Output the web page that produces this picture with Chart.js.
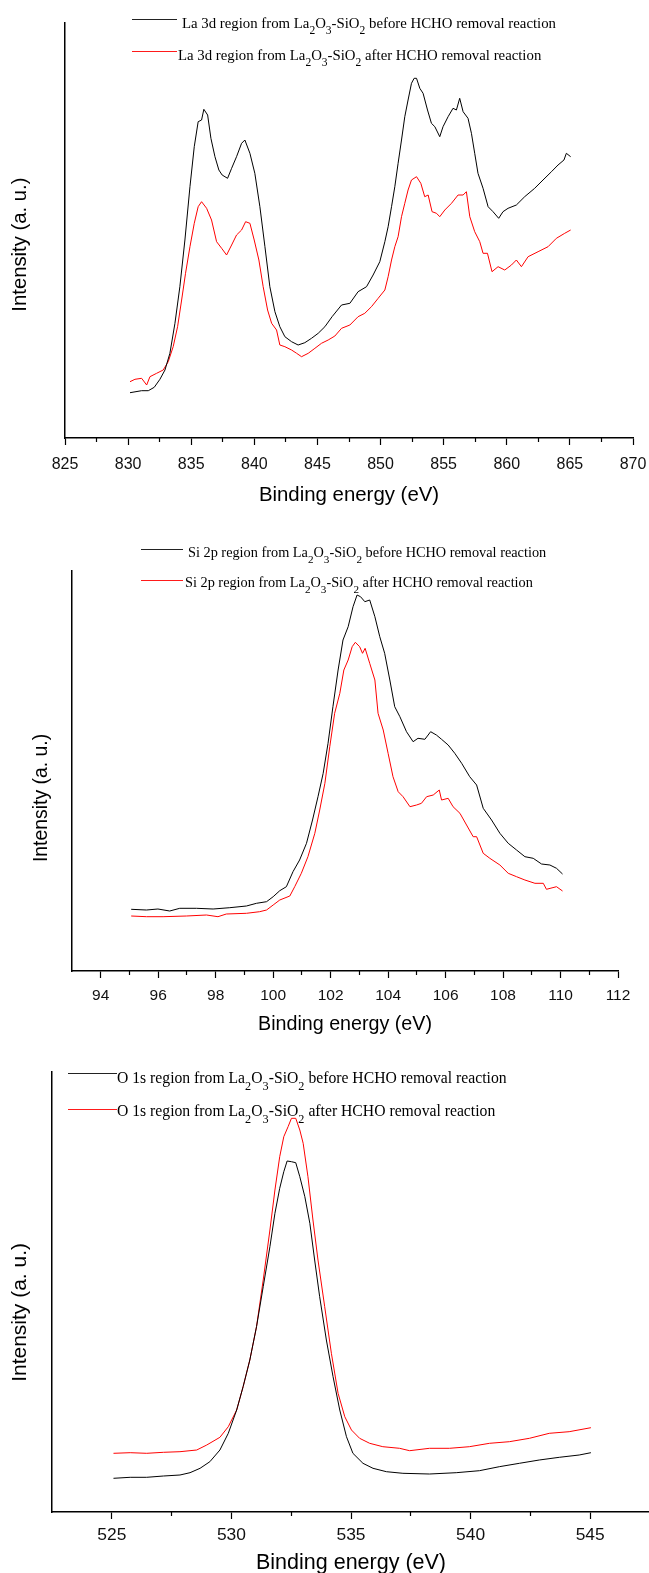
<!DOCTYPE html>
<html><head><meta charset="utf-8">
<script src="https://cdn.jsdelivr.net/npm/chart.js@4.4.0/dist/chart.umd.min.js"></script>
<style>
html,body{margin:0;padding:0;background:#fff;width:649px;height:1573px;overflow:hidden;position:relative}
canvas{position:absolute;left:0}
.leg{position:absolute;font-family:"Liberation Serif","Times New Roman",serif;color:#000;white-space:nowrap}
.leg sub{font-size:0.78em;line-height:0;vertical-align:-0.55em}
.ln{position:absolute;height:0;border-top:1.3px solid #222}
.ln.r{border-top-color:#ff1a1a}
</style></head><body>
<canvas id="c1" width="660" height="520" style="top:0"></canvas>
<canvas id="c2" width="649" height="520" style="top:520px"></canvas>
<canvas id="c3" width="660" height="545" style="top:1040px"></canvas>

<div class="ln" style="left:132px;width:45px;top:19px"></div>
<div class="leg" style="left:182px;top:15.9px;font-size:14.8px;line-height:14.8px">La 3d region from La<sub>2</sub>O<sub>3</sub>-SiO<sub>2</sub> before HCHO removal reaction</div>
<div class="ln r" style="left:132px;width:45px;top:51px"></div>
<div class="leg" style="left:178px;top:47.6px;font-size:14.8px;line-height:14.8px">La 3d region from La<sub>2</sub>O<sub>3</sub>-SiO<sub>2</sub> after HCHO removal reaction</div>

<div class="ln" style="left:141px;width:42px;top:549px"></div>
<div class="leg" style="left:188px;top:544.7px;font-size:14.3px;line-height:14.3px">Si 2p region from La<sub>2</sub>O<sub>3</sub>-SiO<sub>2</sub> before HCHO removal reaction</div>
<div class="ln r" style="left:141px;width:42px;top:580px"></div>
<div class="leg" style="left:185px;top:575.3px;font-size:14.3px;line-height:14.3px">Si 2p region from La<sub>2</sub>O<sub>3</sub>-SiO<sub>2</sub> after HCHO removal reaction</div>

<div class="ln" style="left:68px;width:49px;top:1073px"></div>
<div class="leg" style="left:117px;top:1069.5px;font-size:15.7px;line-height:15.7px">O 1s region from La<sub>2</sub>O<sub>3</sub>-SiO<sub>2</sub> before HCHO removal reaction</div>
<div class="ln r" style="left:68px;width:49px;top:1108.5px"></div>
<div class="leg" style="left:117px;top:1102.8px;font-size:15.7px;line-height:15.7px">O 1s region from La<sub>2</sub>O<sub>3</sub>-SiO<sub>2</sub> after HCHO removal reaction</div>

<script>
// ---------- La 3d ----------
const la3dBeforeE = [830.15,831.07,831.6,832.07,832.52,832.92,833.31,833.71,834.1,834.5,834.9,835.24,835.55,835.82,836.0,836.3,836.56,836.88,837.19,837.45,837.88,838.2,838.59,838.99,839.25,839.65,840.04,840.44,840.84,841.23,841.63,842.02,842.42,842.95,843.47,844.0,844.53,845.06,845.59,846.16,846.91,847.57,848.22,848.89,849.41,849.94,850.34,850.6,850.87,851.13,851.39,851.66,851.92,852.18,852.45,852.66,852.85,853.11,853.37,853.72,854.03,854.3,854.69,854.95,855.35,855.74,856.01,856.27,856.54,856.93,857.2,857.46,857.72,858.12,858.52,858.91,859.36,859.7,860.1,860.76,861.42,862.21,862.87,863.54,864.06,864.53,864.72,865.06];
const la3dBeforeI = [45.3,47.3,47.3,50.7,58.7,68,84.7,114.7,151.3,198,251.3,291.3,316.3,318,328.7,323,299.7,281.3,268,263,259.7,269.7,281.3,294.7,298,284.7,264.7,231.3,191.3,151.3,126.3,111.3,101.3,96.3,93,95.3,99.7,104.7,111.3,121.3,133,134.7,146.3,151.3,163,176.3,196.3,211.3,231.3,251.3,274.7,298,321.3,338,354.7,359.7,359.7,349.7,344.7,328,314.7,311.3,301.3,311.3,321.3,329.7,328,339.7,326.3,319.7,304.7,284.7,264.7,249.7,231.3,226.3,219.7,226.3,229.7,233,241.3,249.7,258,266.3,273,278,284.7,281.3];
const la3dAfterE = [830.15,830.54,831.07,831.47,831.73,832.26,832.78,833.18,833.57,833.92,834.24,834.55,834.9,835.24,835.55,835.82,836.22,836.61,837.01,837.41,837.8,838.2,838.59,838.99,839.31,839.65,839.99,840.36,840.7,841.05,841.37,841.76,842.02,842.42,842.95,843.35,843.74,844.27,844.8,845.32,845.85,846.38,846.91,847.57,848.22,848.75,849.28,849.81,850.34,850.6,850.87,851.13,851.39,851.66,851.92,852.18,852.45,852.85,853.19,853.5,853.77,854.08,854.43,854.69,855.09,855.62,856.14,856.54,856.8,857.07,857.46,857.86,858.12,858.47,858.83,859.31,859.84,860.37,860.76,861.16,861.69,862.48,863.27,863.93,864.59,865.06];
const la3dAfterI = [56.3,58.7,59.7,53,61.3,64.7,68,76.3,91.3,111.3,138,164.7,191.3,214.7,231.3,236.3,229.7,218,196.3,189.7,183,193,203,208,216.3,214.7,198,178,151.3,128,114.7,108,93,91.3,88,84.7,81.3,84.7,89.7,94.7,98,102,109.7,113,121.3,124.7,131.3,139.7,148,161.3,178,191.3,201.3,221.3,234.7,248,258,261.3,254.7,241.3,243,226.3,224.7,221.3,228,234.7,243,243,246.3,221.3,206.3,196.3,184.7,184.7,166.3,171.3,168,173,178,171.3,181.3,186.3,191.3,199.7,204.7,208];
const la3dMajorTicks = [825,830,835,840,845,850,855,860,865,870];
const la3dMinorTicks = [827.5,832.5,837.5,842.5,847.5,852.5,857.5,862.5,867.5];

// ---------- Si 2p ----------
const si2pBeforeE = [95.06,95.59,95.99,96.4,96.75,97.33,97.91,98.49,99.07,99.42,99.77,100.0,100.23,100.46,100.69,100.92,101.16,101.37,101.56,101.74,101.91,102.08,102.26,102.43,102.61,102.78,102.92,103.04,103.19,103.36,103.54,103.71,103.88,104.06,104.23,104.41,104.64,104.87,105.04,105.28,105.48,105.68,105.86,106.09,106.32,106.56,106.84,107.08,107.31,107.6,107.89,108.18,108.47,108.76,109.05,109.34,109.63,109.86,110.07];
const si2pBeforeI = [61.7,61,62,60,62.7,62.7,62,63.3,65,67.7,69.3,74.3,80.3,84.3,99.3,111,127.7,151,174.3,197.7,227.7,264.3,301,331,344.3,364.3,376,374.3,369.3,371,354.3,334.3,317.7,291,264.3,254.3,239.3,229.3,232.7,231.7,239.3,236,231.7,226,217.7,207.7,194.3,186,162.7,151,137.7,127.7,121,114.3,112.7,107,106,102.7,97];
const si2pAfterE = [95.06,95.59,96.17,96.98,97.68,98.08,98.37,99.07,99.53,99.77,100.0,100.23,100.58,100.75,100.98,101.21,101.45,101.62,101.8,101.97,102.14,102.32,102.46,102.61,102.75,102.86,103.01,103.11,103.2,103.36,103.54,103.65,103.83,104.0,104.17,104.35,104.52,104.76,104.99,105.16,105.34,105.57,105.78,105.86,106.09,106.26,106.5,106.73,106.96,107.08,107.31,107.54,107.89,108.18,108.47,108.76,109.11,109.4,109.51,109.86,110.07];
const si2pAfterI = [55,54.3,54.3,55,56,54.3,57,57.7,59.3,61,66,71,75,84.3,97.7,114.3,137.7,161,187.7,224.3,257.7,277.7,301,311,324.3,328.7,324.3,317.7,322.7,307.7,291,257.7,241,217.7,194.3,179.3,174.3,164.3,166,167.7,174.3,176,181,171,172.7,164.3,157.7,146,134.3,134.3,117.7,112.7,106,97.7,94.3,91,87.7,87.7,81.7,84.3,80];
const si2pMajorTicks = [94,96,98,100,102,104,106,108,110,112];
const si2pMinorTicks = [95,97,99,101,103,105,107,109,111];

// ---------- O 1s ----------
const o1sBeforeE = [525.07,525.77,526.46,527.16,527.85,528.27,528.69,529.1,529.52,529.87,530.22,530.49,530.77,531.05,531.33,531.61,531.82,532.02,532.19,532.33,532.51,532.69,532.86,533.07,533.28,533.48,533.69,533.97,534.25,534.53,534.81,535.08,535.5,535.92,536.48,537.17,538.28,539.4,540.37,541.2,542.04,542.87,543.71,544.54,545.03];
const o1sBeforeI = [33.7,34.7,34.7,36,37,39.3,43.7,50.3,62,78.7,102,125.3,152,185.3,225.3,265.3,298.7,323.7,340.3,351,350.3,349.3,335.3,315.3,288.7,252,215.3,172,135.3,102,75.3,58.7,48.7,43.7,40.3,38.7,38,39.3,41.3,45.3,48.7,52,54.7,57,59.3];
const o1sAfterE = [525.07,525.77,526.46,527.16,527.85,528.55,528.97,529.52,529.87,530.22,530.49,530.77,531.05,531.33,531.61,531.82,532.02,532.19,532.37,532.51,532.69,532.86,533.0,533.2,533.41,533.62,533.9,534.18,534.46,534.74,535.02,535.36,535.78,536.33,537.03,537.45,538.28,539.12,539.95,540.79,541.62,542.46,543.29,544.12,545.03];
const o1sAfterI = [58.7,59.3,58.7,59.7,60.3,62,67,74.7,85.3,102,125.3,152,185.3,232,282,322,355.3,375.3,385.3,393.7,393.7,382,368.7,335.3,292,252,205.3,158.7,118.7,95.3,82,73.7,68.7,65.3,63.7,61.3,63.7,63.7,65.3,68.7,70.3,73.7,78.7,80.3,84.3];
const o1sMajorTicks = [525,530,535,540,545];
const o1sMinorTicks = [527.5,532.5,537.5,542.5,547.5];

const xTitle = 'Binding energy (eV)';
const yTitle = 'Intensity (a. u.)';

function pts(e, v){ return e.map((x,i)=>({x:x, y:v[i]})); }

function makeChart(id, o){
  const SANS = '"Liberation Sans", Arial, sans-serif';
  return new Chart(document.getElementById(id), {
    type:'line',
    data:{datasets:[
      {label:'before', data:pts(o.bE,o.bI), borderColor:'#000', borderWidth:1, pointRadius:0, tension:0, fill:false},
      {label:'after', data:pts(o.aE,o.aI), borderColor:'#ff0000', borderWidth:1, pointRadius:0, tension:0, fill:false}
    ]},
    options:{
      responsive:false, animation:false, devicePixelRatio:1,
      layout:{padding:{top:o.top, right:o.w - o.right, left:0, bottom:0}},
      plugins:{legend:{display:false}, tooltip:{enabled:false}},
      scales:{
        x:{type:'linear', position:'bottom', min:o.min, max:o.max, weight:1,
           afterBuildTicks:s=>{ s.ticks = o.major.map(v=>({value:v})); },
           afterFit:s=>{ s.height = o.h - o.bottom; },
           ticks:{color:'#111', font:{family:SANS, size:o.tickFs}, padding:o.tickPad, maxRotation:0, autoSkip:false, callback:v=>String(v)},
           grid:{display:true, drawOnChartArea:false, drawTicks:true, tickLength:7, color:'#000', tickWidth:1.2},
           border:{display:true, color:'#000', width:1.5},
           title:{display:true, text:xTitle, color:'#000', font:{family:SANS, size:o.xtFs}, padding:{top:0, bottom:o.xtPad}}
        },
        xm:{type:'linear', position:'bottom', min:o.min, max:o.max, weight:0,
           afterBuildTicks:s=>{ s.ticks = o.minor.map(v=>({value:v})); },
           afterFit:s=>{ s.height = 0; },
           ticks:{display:false},
           grid:{display:true, drawOnChartArea:false, drawTicks:true, tickLength:4, color:'#000', tickWidth:1.2},
           border:{display:false}
        },
        y:{type:'linear', position:'left', min:0, max:o.ymax,
           afterFit:s=>{ s.width = o.left; },
           ticks:{display:false},
           grid:{display:false},
           border:{display:true, color:'#000', width:1.5},
           title:{display:true, text:yTitle + '\u00a0'.repeat(o.ySp), color:'#000', font:{family:SANS, size:o.ytFs}, padding:{top:o.ytPad, bottom:0}}
        }
      }
    }
  });
}

makeChart('c1', {w:660, h:520, left:65, right:633, top:23, bottom:438, min:825, max:870, ymax:415,
  bE:la3dBeforeE, bI:la3dBeforeI, aE:la3dAfterE, aI:la3dAfterI, major:la3dMajorTicks, minor:la3dMinorTicks,
  tickFs:16, tickPad:10, xtFs:20.4, xtPad:12.8, ytFs:20.3, ytPad:8.5, ySp:5});

makeChart('c2', {w:649, h:520, left:72, right:618, top:51, bottom:451, min:93, max:112, ymax:400,
  bE:si2pBeforeE, bI:si2pBeforeI, aE:si2pAfterE, aI:si2pAfterI, major:si2pMajorTicks, minor:si2pMinorTicks,
  tickFs:15.5, tickPad:8.7, xtFs:19.7, xtPad:3.2, ytFs:19.4, ytPad:29.8, ySp:10});

makeChart('c3', {w:660, h:545, left:52, right:650, top:32, bottom:472, min:522.5, max:547.5, ymax:440,
  bE:o1sBeforeE, bI:o1sBeforeI, aE:o1sAfterE, aI:o1sAfterI, major:o1sMajorTicks, minor:o1sMinorTicks,
  tickFs:17.4, tickPad:5.6, xtFs:21.5, xtPad:9.1, ytFs:21, ytPad:7.5, ySp:7});
</script>
</body></html>
